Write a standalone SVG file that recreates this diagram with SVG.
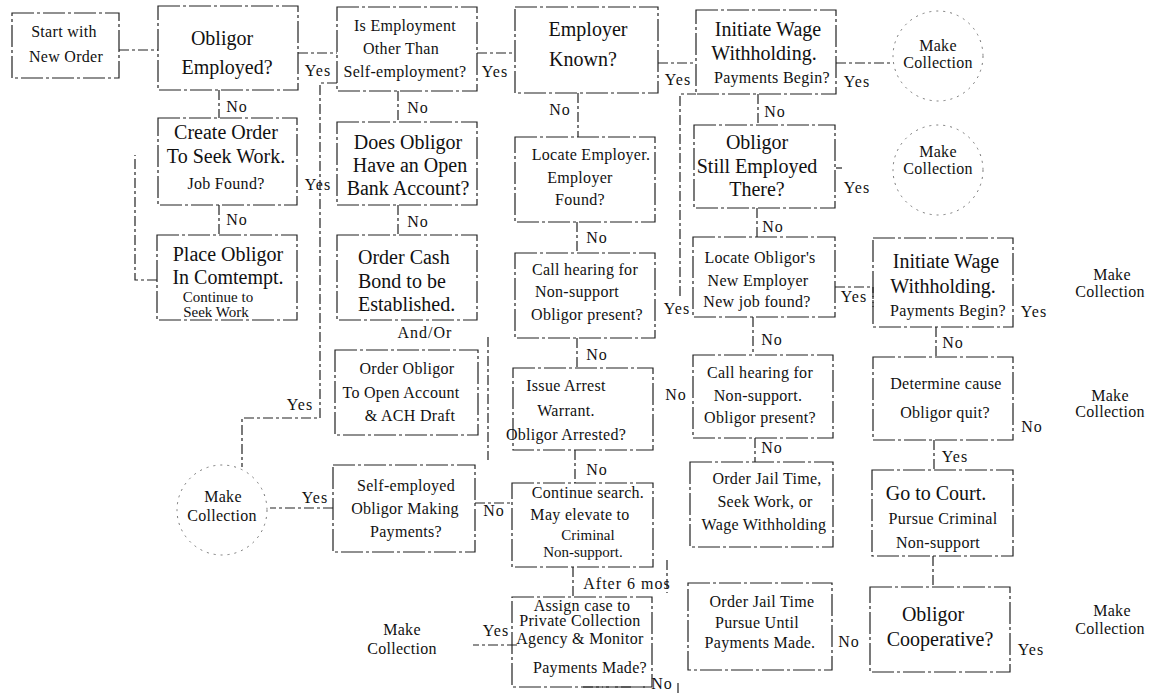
<svg xmlns="http://www.w3.org/2000/svg" width="1157" height="696" viewBox="0 0 1157 696">
<style>
.box{fill:none;stroke:#222;stroke-width:1.2;stroke-dasharray:22 3 3 3}
.circ{fill:none;stroke:#777;stroke-width:1;stroke-dasharray:2 5}
.con{fill:none;stroke:#222;stroke-width:1.2;stroke-dasharray:10 3 3 3}
text{font-family:"Liberation Serif","Times New Roman",serif;fill:#111;text-anchor:middle}
.b{font-size:20px}
.s{font-size:16px;letter-spacing:0.3px}
.t{font-size:15px}
.l{font-size:16px;letter-spacing:1px}
</style>
<rect width="1157" height="696" fill="#fff"/>
<g id="connectors">
<path class="con" d="M119 50H158"/>
<path class="con" d="M298 53H337"/>
<path class="con" d="M337 83H320V418H242V467"/>
<path class="con" d="M219 90V118"/>
<path class="con" d="M219 205V235"/>
<path class="con" d="M157 280H135V155"/>
<path class="con" d="M477 53H515"/>
<path class="con" d="M398 91V122"/>
<path class="con" d="M398 205V235"/>
<path class="con" d="M488 337V460"/>
<path class="con" d="M333 508H270"/>
<path class="con" d="M475 503H512"/>
<path class="con" d="M658 63H696"/>
<path class="con" d="M578 93V137"/>
<path class="con" d="M577 222V253"/>
<path class="con" d="M680 296V94H696"/>
<path class="con" d="M577 338V368"/>
<path class="con" d="M575 450V483"/>
<path class="con" d="M573 567V597"/>
<path class="con" d="M667 560V593"/>
<path class="con" d="M517 645H473"/>
<path class="con" d="M583 687H645M678 683V696"/>
<path class="con" d="M836 63H893"/>
<path class="con" d="M758 94V125"/>
<path class="con" d="M836 168H842"/>
<path class="con" d="M757 208V237"/>
<path class="con" d="M835 287H873V307"/>
<path class="con" d="M753 317V355"/>
<path class="con" d="M755 438V462"/>
<path class="con" d="M936 327V357"/>
<path class="con" d="M934 440V470"/>
<path class="con" d="M933 556V587"/>
</g>
<g id="labels">
<text class="l" x="318" y="76">Yes</text>
<text class="l" x="318" y="190">Yes</text>
<text class="l" x="300" y="410">Yes</text>
<text class="l" x="315" y="503">Yes</text>
<text class="l" x="237" y="112">No</text>
<text class="l" x="237" y="225">No</text>
<text class="l" x="495" y="77">Yes</text>
<text class="l" x="418" y="113">No</text>
<text class="l" x="418" y="227">No</text>
<text class="l" x="425" y="338">And/Or</text>
<text class="l" x="494" y="516">No</text>
<text class="l" x="678" y="85">Yes</text>
<text class="l" x="560" y="115">No</text>
<text class="l" x="597" y="243">No</text>
<text class="l" x="677" y="314">Yes</text>
<text class="l" x="597" y="360">No</text>
<text class="l" x="676" y="400">No</text>
<text class="l" x="597" y="475">No</text>
<text class="l" x="627" y="589">After 6 mos</text>
<text class="l" x="496" y="636">Yes</text>
<text class="l" x="662" y="689">No</text>
<text class="l" x="857" y="87">Yes</text>
<text class="l" x="775" y="117">No</text>
<text class="l" x="857" y="193">Yes</text>
<text class="l" x="773" y="232">No</text>
<text class="l" x="854" y="302">Yes</text>
<text class="l" x="772" y="345">No</text>
<text class="l" x="772" y="453">No</text>
<text class="l" x="953" y="348">No</text>
<text class="l" x="955" y="462">Yes</text>
<text class="l" x="1034" y="317">Yes</text>
<text class="l" x="1032" y="432">No</text>
<text class="l" x="849" y="647">No</text>
<text class="l" x="1031" y="655">Yes</text>
</g>
<g id="n-start"><rect class="box" x="12" y="13" width="107" height="65"/><text class="s" x="64" y="37">Start with</text><text class="s" x="66" y="62">New Order</text></g>
<g id="n-employed"><rect class="box" x="158" y="6" width="140" height="84"/><text class="b" x="222" y="45">Obligor</text><text class="b" x="227" y="74">Employed?</text></g>
<g id="n-other"><rect class="box" x="337" y="7" width="140" height="84"/><text class="s" x="405" y="31">Is Employment</text><text class="s" x="401" y="54">Other Than</text><text class="s" x="405" y="77">Self-employment?</text></g>
<g id="n-known"><rect class="box" x="515" y="7" width="143" height="86"/><text class="b" x="588" y="36">Employer</text><text class="b" x="583" y="66">Known?</text></g>
<g id="n-iww1"><rect class="box" x="696" y="10" width="140" height="84"/><text class="b" x="768" y="36">Initiate Wage</text><text class="b" x="764" y="60">Withholding.</text><text class="s" x="772" y="83">Payments Begin?</text></g>
<g id="n-mc1"><circle class="circ" cx="938" cy="56" r="45"/><text class="s" x="938" y="51">Make</text><text class="s" x="938" y="68">Collection</text></g>
<g id="n-seekwork"><rect class="box" x="158" y="118" width="139" height="87"/><text class="b" x="226" y="139">Create Order</text><text class="b" x="226" y="163">To Seek Work.</text><text class="s" x="226" y="189">Job Found?</text></g>
<g id="n-bank"><rect class="box" x="337" y="122" width="140" height="83"/><text class="b" x="408" y="149">Does Obligor</text><text class="b" x="410" y="172">Have an Open</text><text class="b" x="408" y="195">Bank Account?</text></g>
<g id="n-locemp"><rect class="box" x="515" y="137" width="140" height="85"/><text class="s" x="591" y="160">Locate Employer.</text><text class="s" x="580" y="183">Employer</text><text class="s" x="580" y="205">Found?</text></g>
<g id="n-still"><rect class="box" x="694" y="125" width="141" height="83"/><text class="b" x="757" y="149">Obligor</text><text class="b" x="757" y="173">Still Employed</text><text class="b" x="757" y="196">There?</text></g>
<g id="n-mc2"><circle class="circ" cx="938" cy="170" r="45"/><text class="s" x="938" y="157">Make</text><text class="s" x="938" y="174">Collection</text></g>
<g id="n-contempt"><rect class="box" x="157" y="235" width="140" height="85"/><text class="b" x="228" y="261">Place Obligor</text><text class="b" x="228" y="284">In Comtempt.</text><text class="t" x="218" y="302">Continue to</text><text class="t" x="216" y="317">Seek Work</text></g>
<g id="n-cashbond"><rect class="box" x="337" y="235" width="140" height="85"/><text class="b" x="358" y="264" style="text-anchor:start">Order Cash</text><text class="b" x="358" y="288" style="text-anchor:start">Bond to be</text><text class="b" x="358" y="311" style="text-anchor:start">Established.</text></g>
<g id="n-hearing1"><rect class="box" x="515" y="253" width="140" height="85"/><text class="s" x="585" y="275">Call hearing for</text><text class="s" x="577" y="297">Non-support</text><text class="s" x="587" y="320">Obligor present?</text></g>
<g id="n-newemp"><rect class="box" x="693" y="237" width="142" height="80"/><text class="s" x="760" y="263">Locate Obligor's</text><text class="s" x="758" y="286">New Employer</text><text class="s" x="757" y="307">New job found?</text></g>
<g id="n-iww2"><rect class="box" x="873" y="238" width="140" height="89"/><text class="b" x="946" y="268">Initiate Wage</text><text class="b" x="943" y="293">Withholding.</text><text class="s" x="948" y="316">Payments Begin?</text></g>
<g id="n-mc3"><text class="s" x="1112" y="280">Make</text><text class="s" x="1110" y="297">Collection</text></g>
<g id="n-openacct"><rect class="box" x="335" y="350" width="143" height="85"/><text class="s" x="407" y="374">Order Obligor</text><text class="s" x="401" y="398">To Open Account</text><text class="s" x="410" y="421">&amp; ACH Draft</text></g>
<g id="n-arrest"><rect class="box" x="513" y="368" width="140" height="82"/><text class="s" x="566" y="391">Issue Arrest</text><text class="s" x="566" y="416">Warrant.</text><text class="s" x="566" y="440">Obligor Arrested?</text></g>
<g id="n-hearing2"><rect class="box" x="693" y="355" width="140" height="83"/><text class="s" x="760" y="378">Call hearing for</text><text class="s" x="758" y="401">Non-support.</text><text class="s" x="760" y="423">Obligor present?</text></g>
<g id="n-cause"><rect class="box" x="873" y="357" width="140" height="83"/><text class="s" x="946" y="389">Determine cause</text><text class="s" x="945" y="418">Obligor quit?</text></g>
<g id="n-mc4"><text class="s" x="1110" y="401">Make</text><text class="s" x="1110" y="417">Collection</text></g>
<g id="n-mc5"><circle class="circ" cx="222" cy="510" r="45"/><text class="s" x="223" y="502">Make</text><text class="s" x="222" y="521">Collection</text></g>
<g id="n-selfemp"><rect class="box" x="333" y="465" width="142" height="87"/><text class="s" x="406" y="491">Self-employed</text><text class="s" x="405" y="514">Obligor Making</text><text class="s" x="406" y="537">Payments?</text></g>
<g id="n-search"><rect class="box" x="512" y="483" width="141" height="84"/><text class="s" x="588" y="498">Continue search.</text><text class="s" x="580" y="520">May elevate to</text><text class="t" x="588" y="540">Criminal</text><text class="t" x="583" y="557">Non-support.</text></g>
<g id="n-jail1"><rect class="box" x="690" y="462" width="143" height="85"/><text class="s" x="767" y="484">Order Jail Time,</text><text class="s" x="765" y="507">Seek Work, or</text><text class="s" x="764" y="530">Wage Withholding</text></g>
<g id="n-court"><rect class="box" x="872" y="470" width="141" height="86"/><text class="b" x="936" y="500">Go to Court.</text><text class="s" x="943" y="524">Pursue Criminal</text><text class="s" x="938" y="548">Non-support</text></g>
<g id="n-mc6"><text class="s" x="402" y="635">Make</text><text class="s" x="402" y="654">Collection</text></g>
<g id="n-agency"><rect class="box" x="512" y="597" width="140" height="90"/><text class="s" x="582" y="611">Assign case to</text><text class="s" x="580" y="626">Private Collection</text><text class="s" x="580" y="644">Agency &amp; Monitor</text><text class="s" x="590" y="673">Payments Made?</text></g>
<g id="n-jail2"><rect class="box" x="688" y="583" width="144" height="87"/><text class="s" x="762" y="607">Order Jail Time</text><text class="s" x="757" y="628">Pursue Until</text><text class="s" x="760" y="648">Payments Made.</text></g>
<g id="n-coop"><rect class="box" x="870" y="587" width="140" height="85"/><text class="b" x="933" y="621">Obligor</text><text class="b" x="940" y="646">Cooperative?</text></g>
<g id="n-mc7"><text class="s" x="1112" y="616">Make</text><text class="s" x="1110" y="634">Collection</text></g>
</svg>
